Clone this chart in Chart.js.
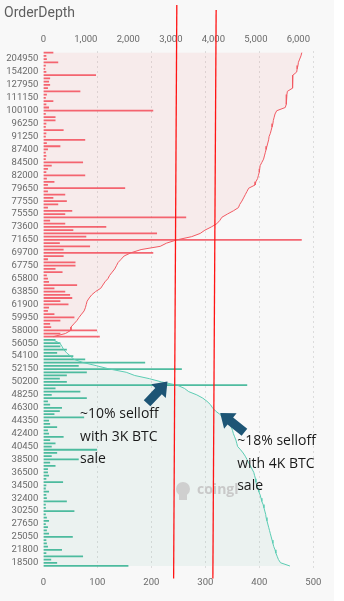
<!DOCTYPE html>
<html>
<head>
<meta charset="utf-8">
<script src="https://cdn.jsdelivr.net/npm/chart.js@4.4.1/dist/chart.umd.min.js"></script>
<style>
  html, body { margin: 0; padding: 0; background: #f8f8f8; }
  #wrap { width: 344px; height: 601px; }
</style>
</head>
<body>
<div id="wrap"><canvas id="chart" width="344" height="601"></canvas></div>
<script>
// price levels, top (highest ask) to bottom (lowest bid)
const priceLevels = [
  249800, 221350, 204950, 186400, 172500, 161900, 154200, 146300, 139850, 133100,
  127950, 122600, 118250, 114500, 111150, 107900, 105000, 102450, 100100, 99050,
  98100, 97150, 96250, 94950, 93700, 92450, 91250, 90250, 89300, 88350,
  87400, 86650, 85950, 85200, 84500, 83850, 83200, 82600, 82000, 81400,
  80800, 80250, 79650, 79100, 78600, 78050, 77550, 77050, 76550, 76050,
  75550, 75050, 74550, 74100, 73600, 73100, 72600, 72150, 71650, 71150,
  70700, 70200, 69700, 69200, 68700, 68250, 67750, 67250, 66750, 66300,
  65800, 65300, 64850, 64350, 63850, 63350, 62900, 62400, 61900, 61400,
  60950, 60450, 59950, 59450, 59000, 58500, 58000, 57500, 57050, 56550,
  56050, 55550, 55100, 54600, 54100, 53600, 53150, 52650, 52150, 51650,
  51200, 50700, 50200, 49700, 49250, 48750, 48250, 47750, 47300, 46800,
  46300, 45800, 45350, 44850, 44350, 43850, 43400, 42900, 42400, 41900,
  41450, 40950, 40450, 39950, 39500, 39000, 38500, 38000, 37500, 37000,
  36500, 36000, 35500, 35000, 34500, 33950, 33450, 32900, 32400, 31850,
  31300, 30800, 30250, 29600, 28950, 28300, 27650, 27000, 26350, 25700,
  25050, 24250, 23400, 22600, 21800, 21000, 20150, 19350, 18500, 17000
];

// only these levels get a label on the axis
const tickLabels = [
  204950, 154200, 127950, 111150, 100100, 96250, 91250, 87400, 84500, 82000,
  79650, 77550, 75550, 73600, 71650, 69700, 67750, 65800, 63850, 61900,
  59950, 58000, 56050, 54100, 52150, 50200, 48250, 46300, 44350, 42400,
  40450, 38500, 36500, 34500, 32400, 30250, 27650, 25050, 21800, 18500
];
const depthTicks = [0, 1000, 2000, 3000, 4000, 5000, 6000];

// BTC resting at each ask level (249800 .. 57050)
const askSize = [
  18, 5, 6, 27, 4, 3, 5, 97, 12, 10,
  12, 8, 68, 6, 4, 18, 5, 10, 203, 4,
  22, 22, 5, 4, 37, 5, 4, 77, 6, 31,
  8, 4, 5, 4, 73, 15, 8, 5, 77, 6,
  20, 8, 151, 8, 40, 18, 43, 27, 8, 53,
  40, 264, 12, 40, 116, 55, 210, 79, 478, 30,
  86, 37, 203, 37, 8, 59, 59, 22, 35, 6,
  8, 10, 62, 20, 40, 49, 53, 31, 46, 10,
  8, 20, 57, 31, 12, 14, 99, 31, 104
];

// BTC resting at each bid level (56550 .. 17000)
const bidSize = [
  22, 31, 31, 43, 25, 55, 77, 188, 65, 256,
  80, 43, 30, 43, 377, 22, 68, 15, 80, 8,
  12, 34, 30, 20, 75, 10, 12, 25, 8, 10,
  37, 12, 22, 15, 99, 25, 15, 65, 12, 22,
  8, 8, 10, 5, 36, 5, 4, 10, 5, 6,
  43, 4, 4, 57, 4, 6, 10, 4, 8, 6,
  10, 54, 5, 6, 8, 34, 5, 73, 14, 25,
  157
];

// cumulative ask depth (BTC)
const askDepth = [
  6080, 6060, 6030, 6000, 5990, 5970, 5960, 5870, 5870, 5870,
  5860, 5850, 5740, 5730, 5720, 5715, 5710, 5690, 5490, 5450,
  5430, 5410, 5400, 5380, 5360, 5340, 5310, 5300, 5280, 5260,
  5240, 5220, 5200, 5180, 5140, 5100, 5090, 5080, 5060, 5040,
  5000, 4980, 4830, 4790, 4750, 4710, 4670, 4620, 4590, 4470,
  4330, 4200, 4150, 4080, 3950, 3800, 3690, 3490, 3140, 2900,
  2750, 2300, 2060, 1900, 1830, 1760, 1720, 1680, 1620, 1560,
  1520, 1450, 1400, 1350, 1230, 1140, 1080, 1030, 1010, 990,
  960, 900, 840, 790, 720, 650, 650, 520, 230
];

// cumulative bid depth (BTC)
const bidDepth = [
  230, 390, 440, 480, 550, 640, 720, 940, 1260, 1560,
  1950, 2150, 2500, 2780, 3150, 3320, 3420, 3610, 3750, 3850,
  3930, 3980, 4050, 4150, 4230, 4320, 4390, 4420, 4450, 4470,
  4500, 4530, 4550, 4570, 4640, 4700, 4750, 4790, 4830, 4870,
  4910, 4950, 4970, 4990, 5000, 5020, 5050, 5070, 5100, 5120,
  5140, 5170, 5190, 5210, 5230, 5240, 5260, 5280, 5300, 5320,
  5340, 5360, 5380, 5400, 5420, 5450, 5470, 5500, 5530, 5580,
  5800
];

// annotations: red marker lines (top-axis value at top / bottom end)
const selloffLines = [[3140, 3065], [4065, 3988]];
// arrows: [tailDepth, tailIndex, tipDepth, tipIndex]
const arrows = [[2440, 108.6, 2920, 101.9], [4730, 117.6, 4160, 111.6]];
// notes: depth value, category index of first line, lines
const notes = [
  [865, 112.0, ['~10% selloff', 'with 3K BTC', 'sale']],
  [4560, 120.4, ['~18% selloff', 'with 4K BTC', 'sale']]
];

const nAsk = askSize.length;
const blanks = (n) => Array(n).fill(null);
const labels = priceLevels.map(String);
const shown = new Set(tickLabels.map(String));

const fontTick = { family: 'Roboto', size: 9.5 };

const extras = {
  id: 'extras',
  beforeDraw(chart) {
    const c = chart.ctx;
    c.save();
    c.fillStyle = '#f8f8f8';
    c.fillRect(0, 0, chart.width, chart.height);
    c.fillStyle = '#ffffff';
    c.fillRect(334, 0, chart.width - 334, chart.height);
    c.fillStyle = '#5f5f5f';
    c.font = '14px Roboto';
    c.textBaseline = 'middle';
    c.fillText('OrderDepth', 4, 13);
    c.restore();
  },
  beforeDatasetsDraw(chart) {
    // coinglass watermark
    const c = chart.ctx;
    c.save();
    c.fillStyle = '#cfcfcf';
    c.beginPath();
    c.arc(183, 489, 7, 0, Math.PI * 2);
    c.fill();
    c.fillRect(179, 494, 8, 6);
    c.font = 'bold 14px "Open Sans"';
    c.fillStyle = '#c9c9c9';
    c.textBaseline = 'middle';
    c.fillText('coingl', 197, 490);
    c.restore();
  },
  afterDraw(chart) {
    const c = chart.ctx;
    const xs = chart.scales.xDepth, ys = chart.scales.y;
    const area = chart.chartArea;
    c.save();
    c.strokeStyle = '#ff1414';
    c.lineWidth = 1.3;
    selloffLines.forEach(([top, bot], i) => {
      c.beginPath();
      c.moveTo(xs.getPixelForValue(top), i === 0 ? 5 : 10);
      c.lineTo(xs.getPixelForValue(bot), area.bottom + 11);
      c.stroke();
    });

    c.fillStyle = '#1d5575';
    arrows.forEach(([tx, ti, hx, hi]) => {
      const x0 = xs.getPixelForValue(tx), y0 = ys.getPixelForValue(ti);
      const x1 = xs.getPixelForValue(hx), y1 = ys.getPixelForValue(hi);
      const len = Math.hypot(x1 - x0, y1 - y0);
      const ux = (x1 - x0) / len, uy = (y1 - y0) / len;
      const px = -uy, py = ux;
      const head = 13, hw = 10, sw = 4.5;
      const bx = x1 - ux * head, by = y1 - uy * head;
      c.beginPath();
      c.moveTo(x0 + px * sw, y0 + py * sw);
      c.lineTo(bx + px * sw, by + py * sw);
      c.lineTo(bx + px * hw, by + py * hw);
      c.lineTo(x1, y1);
      c.lineTo(bx - px * hw, by - py * hw);
      c.lineTo(bx - px * sw, by - py * sw);
      c.lineTo(x0 - px * sw, y0 - py * sw);
      c.closePath();
      c.fill();
    });

    c.fillStyle = '#1a1a1a';
    c.font = '14px "Open Sans"';
    c.textBaseline = 'middle';
    notes.forEach(([v, idx, lines]) => {
      const x = xs.getPixelForValue(v);
      const y = ys.getPixelForValue(idx);
      lines.forEach((t, k) => c.fillText(t, x, y + k * 22.5));
    });
    c.restore();
  }
};

new Chart(document.getElementById('chart'), {
  type: 'bar',
  data: {
    labels: labels,
    datasets: [
      {
        type: 'line',
        label: 'ask depth',
        data: askDepth.concat(blanks(labels.length - nAsk)),
        xAxisID: 'xDepth',
        yAxisID: 'y',
        indexAxis: 'y',
        borderColor: '#f25a63',
        borderWidth: 1,
        pointRadius: 0,
        fill: 'origin',
        backgroundColor: 'rgba(240, 90, 95, 0.08)',
        order: 0
      },
      {
        type: 'line',
        label: 'bid depth',
        data: blanks(nAsk).concat(bidDepth),
        xAxisID: 'xDepth',
        yAxisID: 'y',
        indexAxis: 'y',
        borderColor: '#5ccdb4',
        borderWidth: 1,
        pointRadius: 0,
        fill: 'origin',
        backgroundColor: 'rgba(70, 175, 145, 0.07)',
        order: 0
      },
      {
        label: 'asks',
        data: askSize.concat(blanks(labels.length - nAsk)),
        xAxisID: 'xBar',
        yAxisID: 'y',
        backgroundColor: 'rgba(242, 66, 80, 0.8)',
        barThickness: 1.1,
        grouped: false,
        order: 1
      },
      {
        label: 'bids',
        data: blanks(nAsk).concat(bidSize),
        xAxisID: 'xBar',
        yAxisID: 'y',
        backgroundColor: 'rgba(36, 172, 138, 0.8)',
        barThickness: 1.1,
        grouped: false,
        order: 1
      }
    ]
  },
  options: {
    indexAxis: 'y',
    animation: false,
    responsive: false,
    layout: { padding: { left: 0, right: 30.7, bottom: 4, top: 27.6 } },
    plugins: {
      legend: { display: false },
      tooltip: { enabled: false },
      filler: { drawTime: 'beforeDatasetsDraw' },
      title: { display: false }
    },
    scales: {
      y: {
        type: 'category',
        grid: { display: false, drawTicks: false },
        border: { display: false },
        afterFit: (s) => { s.width = 43.3; },
        ticks: {
          autoSkip: false,
          padding: 5,
          color: '#6a6a6a',
          font: fontTick,
          callback: function (v) {
            const l = this.getLabelForValue(v);
            return shown.has(l) ? l : '';
          }
        }
      },
      xBar: {
        type: 'linear',
        position: 'bottom',
        min: 0,
        max: 500,
        grid: {
          drawTicks: false,
          color: (ctx) => ctx.index === 0 ? 'rgba(0,0,0,0)' : '#dcdcdc'
        },
        border: { display: false, dash: [2, 3] },
        ticks: { stepSize: 100, padding: 9, maxRotation: 0, color: '#6a6a6a', font: fontTick }
      },
      xDepth: {
        type: 'linear',
        position: 'top',
        min: 0,
        max: 6350,
        grid: { display: false, drawTicks: false },
        border: { display: false },
        afterBuildTicks: (s) => { s.ticks = depthTicks.map((v) => ({ value: v })); },
        ticks: {
          padding: 6,
          maxRotation: 0,
          color: '#6a6a6a',
          font: fontTick,
          callback: (v) => v.toLocaleString('en-US')
        }
      }
    }
  },
  plugins: [extras]
});
</script>
</body>
</html>
